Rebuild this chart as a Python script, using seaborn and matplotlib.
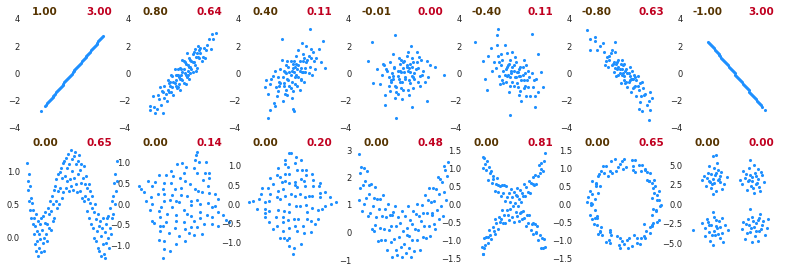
import seaborn as sns
import matplotlib.pyplot as plt

sns.set_theme(style="white")
plt.rcParams["font.family"] = ["DejaVu Sans"]

# DATA

# labels above each panel: correlation (left) and mutual information (right)
top_corr = ["1.00", "0.80", "0.40", "-0.01", "-0.40", "-0.80", "-1.00"]
top_mi = ["3.00", "0.64", "0.11", "0.00", "0.11", "0.63", "3.00"]
bottom_corr = ["0.00", "0.00", "0.00", "0.00", "0.00", "0.00", "0.00"]
bottom_mi = ["0.65", "0.14", "0.20", "0.48", "0.81", "0.65", "0.00"]

# top row: linear relationships
x_r100 = [-2.8, -2.38, -2.3, -2.21, -2.14, -2.05, -1.97, -1.9, -1.81, -1.72, -1.66, -1.57, -1.49, -1.4, -1.33,
          -1.24, -1.15, -1.08, -1.0, -0.91, -0.83, -0.76, -0.67, -0.59, -0.5, -0.42, -0.35, -0.26, -0.17, -0.1,
          -0.02, 0.07, 0.15, 0.22, 0.31, 0.39, 0.46, 0.55, 0.63, 0.7, 0.79, 0.88, 0.95, 1.03, 1.12, 1.2, 1.27,
          1.36, 1.44, 1.52, 1.6, 1.69, 1.77, 1.84, 1.93, 2.01, 2.1, 2.18, 2.26, 2.35, 2.43, 2.52, 2.6, 2.68, 2.75]
y_r100 = [-2.8, -2.38, -2.3, -2.21, -2.14, -2.05, -1.97, -1.9, -1.81, -1.72, -1.66, -1.57, -1.49, -1.4, -1.33,
          -1.24, -1.15, -1.08, -1.0, -0.91, -0.83, -0.76, -0.67, -0.59, -0.5, -0.42, -0.35, -0.26, -0.17, -0.1,
          -0.02, 0.07, 0.15, 0.22, 0.31, 0.39, 0.46, 0.55, 0.63, 0.7, 0.79, 0.88, 0.95, 1.03, 1.12, 1.2, 1.27,
          1.36, 1.44, 1.52, 1.6, 1.69, 1.77, 1.84, 1.93, 2.01, 2.1, 2.18, 2.26, 2.35, 2.43, 2.52, 2.6, 2.68, 2.75]

x_r80 = [0.3, -1.2, 1.5, -0.4, 0.9, -2.1, 0.1, 2.2, -0.8, 0.6, -1.6, 1.1, -0.1, 0.5, -0.6, 1.8, -1.0, 0.2, -2.6, 1.3,
         -0.3, 0.7, -1.4, 2.7, -0.9, 0.0, 1.0, -1.8, 0.4, -0.5, 1.6, -1.1, 0.8, -0.2, 2.0, -2.9, 0.3, -0.7, 1.2, -1.3,
         0.5, -0.1, 1.4, -2.3, 0.9, -0.4, 2.4, -1.7, 0.1, 0.6, -0.8, 1.7, -0.2, -1.5, 1.0, 0.0, -1.0, 2.1, -0.6, 0.7,
         -2.0, 1.3, -0.3, 0.2, -1.2, 0.8, 3.0, -0.9, 0.4, -1.9, 1.5, -0.5, 0.6, -2.5, 1.9, -0.1, 1.1, -1.1, 0.3, -0.7,
         2.5, -1.6, 0.9, 0.1, -0.3, 1.6, -2.2, 0.5, -0.4, 1.2, -2.9, -1.7, -2.4, 2.6, -0.6, 0.0, 1.4, -1.3, 0.7, -0.2]
y_r80 = [-0.1, -0.7, 1.7, -1.0, 0.8, -1.9, 0.9, 2.1, -0.6, -0.4, -1.8, 1.8, 0.3, 0.6, -0.9, 1.2, -0.1, 0.0, -1.7, 0.4,
         -0.2, 1.0, -2.0, 2.5, -1.0, -0.5, 0.8, -1.3, 1.5, -0.1, 1.9, -0.9, 0.3, -1.2, 1.1, -2.4, 0.7, 0.3, 1.2, -0.5,
         0.2, -0.4, 1.2, -2.6, 0.1, -0.1, 2.5, -1.4, -0.7, 1.1, -1.6, 0.9, 0.4, -1.5, 1.6, 0.1, -1.4, 1.7, -0.1, 0.0,
         -1.0, 1.5, -0.3, 0.8, -1.4, 0.9, 3.0, -0.2, -0.3, -2.3, 1.1, -1.1, 0.5, -2.5, 1.9, -0.1, 0.6, -0.6, -0.8, -0.7,
         1.8, -0.9, 1.4, 0.3, -0.8, 1.5, -1.6, -0.1, 0.3, 0.2, -2.7, -2.9, -2.9, 2.9, -0.5, 1.0, 2.0, -1.2, 0.5, -0.4]

x_r40 = [0.2, -1.1, 1.4, -0.5, 0.7, -1.9, 0.0, 1.9, -0.8, 0.5, -0.2, 1.1, -1.4, 0.9, -0.6, 2.3, 0.3, -1.6, 0.6, -0.3,
         1.6, -0.9, 0.1, -2.2, 1.2, -0.1, 0.8, -1.2, 0.4, -0.7, 2.0, -0.4, 1.0, -1.0, 0.0, 1.5, -1.7, 0.5, -0.5, 2.7,
         1.5, -2.2, -2.0, -1.6, 0.0, 0.1, 2.9, -2.5, -1.0, 0.2, -0.8, 1.3, -1.3, 0.7, -0.2, 0.9, -2.0, 1.8, -0.6, 0.3,
         -1.5, 0.6, -0.1, 2.1, -0.9, 1.1, -0.4, 0.4, -1.1, 1.7, 0.1, -0.7, 0.8, -2.4, 1.2, -0.3, 0.2, -1.3, 1.0, -0.5,
         0.5, 2.5, -1.8, 0.0, -0.8, 1.4, 0.3, -0.2, 0.9, -1.2, 0.6, -0.6, 1.6, -0.1, 0.7]
y_r40 = [0.5, -0.7, 1.3, 0.9, -0.5, -0.4, -1.3, 0.9, -0.9, 1.7, -0.1, 0.1, -1.7, 0.9, 0.0, 1.8, -0.1, 0.2, -1.2, -0.9,
         1.8, -0.3, 0.9, -1.5, 0.8, -1.8, 2.2, -0.6, 0.3, -1.5, 0.3, 0.5, -0.6, 1.0, 0.4, 0.5, -2.2, -0.3, -0.4, 2.4,
         3.3, -3.3, -2.7, -2.4, -2.6, -2.8, 0.4, -1.0, 2.5, -0.8, 0.2, 1.0, -0.3, 0.4, 0.9, 0.1, -0.8, 1.6, -1.2, 1.3,
         -1.0, 0.9, -0.6, 1.1, -2.0, 0.4, -0.5, -0.9, 0.3, -0.1, 0.1, 0.1, 0.1, -0.5, 2.0, 0.1, -0.3, -1.3, 1.1, -1.6,
         0.6, 0.8, -0.2, 0.7, -0.7, 0.0, 0.7, -1.1, 1.4, -0.9, 0.2, 0.6, 1.1, 0.2, -0.4]

x_r0 = [0.3, -0.9, 1.2, -0.4, 0.6, -1.5, 0.0, 1.7, -0.7, 0.4, -0.2, 1.0, -1.2, 0.8, -0.5, 2.1, 0.2, -1.8, 0.5, -0.3,
        1.4, -1.0, 0.1, -2.1, 1.1, -0.1, 0.7, -1.3, 0.4, -0.6, 1.9, -0.3, 0.9, -0.9, 0.0, 1.5, -1.6, 0.5, -0.5, 2.4,
        -0.8, 1.3, -1.4, 0.6, -0.2, 0.9, -1.9, 1.6, -0.6, 0.3, -1.1, 0.6, -0.1, 1.8, -0.7, 1.0, -0.4, 0.4, -1.2, 1.5,
        0.1, -0.8, 0.8, -2.3, 1.2, -0.3, 0.2, -1.3, 0.9, -0.5, 0.5, 2.2, -1.7, 0.0, -0.9, 1.3, 0.3, -0.2, 0.8, -1.1,
        3.6, -0.6, -0.7, -2.8, -3.1, -2.7, 2.8, 2.1, 0.8, -1.6]
y_r0 = [0.5, -0.2, 0.8, 1.1, -0.7, 0.3, -1.2, -0.1, -0.9, 1.6, 0.1, -0.4, -1.3, 0.5, 0.2, 0.9, -0.3, 0.7, -1.6, -0.6,
        1.2, 0.0, 0.9, -0.8, 0.3, -1.9, 2.0, -0.3, 0.2, -1.4, -0.6, 0.7, -1.1, 1.4, 0.4, -0.2, -1.6, -0.5, -0.2, 0.6,
        0.5, 0.4, 0.2, 0.1, 1.0, -0.3, -0.1, 1.0, -1.0, 1.3, -0.5, 0.7, -0.6, 0.2, -1.8, 0.0, -0.4, -1.2, 0.8, -0.9,
        0.1, 0.4, -0.2, 0.3, 1.6, 0.2, -0.4, -0.9, 0.8, -1.5, 0.4, -0.3, 0.6, 0.8, -0.4, -0.6, 0.6, -1.1, 1.1, -0.6,
        -0.1, -3.3, 2.8, 2.3, 0.9, -0.7, 0.5, -2.0, -2.5, -2.3]

x_rn40 = [0.4, -1.0, 1.3, -0.3, 0.8, -1.7, 0.1, 1.8, -0.6, 0.5, -0.1, 1.0, -1.3, 0.7, -0.8, 2.2, 0.2, -2.0, 0.6, -0.4,
          1.5, -1.1, 0.0, -0.7, 1.1, -0.2, 0.9, -1.5, 0.3, -0.5, 1.6, -0.9, 0.5, -1.2, 0.0, 2.0, -0.3, 0.7, -1.9, 1.2,
          -0.6, 0.9, -0.1, 1.4, -1.4, 0.3, -0.8, 0.6, -0.2, 1.7, -1.0, 0.1, 2.6, -0.5, 0.8, -1.6, 1.0, -0.4, 0.4, -2.3,
          1.3, -0.7, 0.2, -1.1, 1.9, 0.0, -0.9, 0.6, -0.3, 1.1, -1.3, 0.5, -0.1, 0.9, -0.6,
          -3.4, -1.4, -1.5, 1.6, -0.3, 2.2, 2.4, 1.9, -2.7, -2.5, -2.4]
y_rn40 = [0.1, 1.0, -1.0, -0.9, 0.5, 0.8, -0.3, -0.5, 1.5, -1.6, 0.5, 0.0, -0.2, -0.5, -0.1, -1.4, 0.8, 1.9, -0.2, -1.4,
          -1.7, 0.6, 0.6, -0.6, 0.6, 0.0, -1.1, 2.1, -0.7, 0.6, 0.0, 0.2, 0.3, -0.8, -0.9, -0.4, 1.0, -2.0, 0.2, -0.5,
          -0.2, 1.0, -0.6, -0.3, 1.3, 0.1, 2.1, -1.3, 0.2, -1.0, -0.5, 1.2, -1.0, -0.1, -0.1, 0.4, -0.9, 0.7, -1.0, 1.3,
          0.2, 0.3, -0.3, 1.4, -1.7, 0.2, -0.7, 0.5, -0.3, -1.7, 0.8, -0.2, 1.6, -0.5, 0.5,
          2.3, 3.3, 2.8, 2.9, -3.1, 1.4, 0.1, -2.5, 0.9, -0.4, -1.2]

x_rn80 = [0.3, -1.1, 1.4, -0.5, 0.8, -1.8, 0.0, 1.7, -0.7, 0.5, -0.2, 1.0, -1.4, 0.9, -0.4, 2.2, 0.2, -2.1, 0.6, -0.9,
          1.2, -1.2, 0.1, -0.6, 1.5, -0.1, 0.7, -1.6, 0.4, -0.8, 1.9, -0.3, 1.1, -1.0, 0.0, 2.5, -2.4, 0.5, -0.5, 1.3,
          -1.3, 0.8, -0.2, 1.6, -0.9, 0.2, -1.9, 1.0, -0.6, 0.4, 2.0, -1.5, 0.6, -0.3, 1.1, -1.1, 0.1, -0.7, 0.9, -0.1,
          1.8, -1.7, 0.3, -0.4, 1.4, -0.8, 0.7, -1.3, 0.5, 2.3, -0.5, 1.2, -2.6, 0.0, -0.2,
          -3.3, -3.0, -2.6, 2.2, 2.3, 1.6, 1.3, -3.0, -0.8]
y_rn80 = [0.0, 0.6, -0.7, 1.0, -1.1, 1.6, -0.2, -1.1, -0.2, 0.5, 0.3, -0.9, 0.5, -0.1, 0.0, -2.0, 0.3, 2.0, -1.4, 0.8,
          -0.2, 1.5, -0.7, 0.8, -1.7, 0.0, -0.4, 0.9, -0.6, 1.6, -1.5, -0.7, -0.5, 0.7, 0.7, -1.8, 1.7, -0.5, -0.1, -1.2,
          1.3, -0.4, -0.1, -0.6, 0.1, -0.6, 2.2, -0.3, 0.3, 0.0, -2.3, 1.2, -0.4, 0.7, -1.7, 1.7, 0.2, 0.7, -1.0, 0.6,
          -1.6, 0.6, -1.0, 0.3, -2.1, 0.4, 0.2, 1.0, -0.2, -1.4, 0.5, -0.9, 2.4, -0.5, 1.0,
          3.2, 2.5, 2.7, -3.4, -2.7, -2.8, -2.6, 1.7, 2.3]

x_rn100 = [-2.32, -2.25, -2.16, -2.08, -2.0, -1.91, -1.83, -1.75, -1.66, -1.58, -1.5, -1.41, -1.33, -1.25, -1.16,
           -1.08, -0.99, -0.91, -0.83, -0.74, -0.66, -0.58, -0.49, -0.41, -0.33, -0.24, -0.16, -0.08, 0.01, 0.09,
           0.17, 0.26, 0.34, 0.42, 0.51, 0.59, 0.67, 0.76, 0.84, 0.92, 1.01, 1.09, 1.17, 1.26, 1.34, 1.42, 1.51,
           1.59, 1.67, 1.76, 1.84, 1.92, 2.01, 2.09, 2.17, 2.26, 2.34, 2.45, 2.72]
y_rn100 = [2.32, 2.25, 2.16, 2.08, 2.0, 1.91, 1.83, 1.75, 1.66, 1.58, 1.5, 1.41, 1.33, 1.25, 1.16,
           1.08, 0.99, 0.91, 0.83, 0.74, 0.66, 0.58, 0.49, 0.41, 0.33, 0.24, 0.16, 0.08, -0.01, -0.09,
           -0.17, -0.26, -0.34, -0.42, -0.51, -0.59, -0.67, -0.76, -0.84, -0.92, -1.01, -1.09, -1.17, -1.26, -1.34,
           -1.42, -1.51, -1.59, -1.67, -1.76, -1.84, -1.92, -2.01, -2.09, -2.17, -2.26, -2.34, -2.45, -2.72]

# bottom row: non-linear relationships
x_wave = [-3.98, -3.95, -3.9, -3.85, -3.8, -3.75, -3.7, -3.65, -3.62, -3.57, -3.5, -3.45, -3.4, -3.35, -3.3, -3.25,
          -3.22, -3.18, -3.12, -3.08, -3.03, -2.98, -2.95, -2.9, -2.85, -2.82, -2.78, -2.72, -2.68, -2.62, -2.55,
          -2.5, -2.45, -2.42, -2.37, -2.3, -2.25, -2.18, -2.12, -2.05, -2.02, -1.96, -1.9, -1.84, -1.78, -1.72,
          -1.65, -1.62, -1.57, -1.5, -1.44, -1.38, -1.32, -1.25, -1.22, -1.17, -1.1, -1.04, -0.98, -0.92, -0.86,
          -0.82, -0.77, -0.7, -0.63, -0.57, -0.52, -0.46, -0.42, -0.37, -0.3, -0.24, -0.18, -0.1, -0.05, -0.02,
          0.04, 0.1, 0.15, 0.22, 0.28, 0.33, 0.38, 0.43, 0.5, 0.56, 0.62, 0.68, 0.73, 0.78, 0.84, 0.9, 0.96, 1.03,
          1.08, 1.14, 1.19, 1.24, 1.3, 1.36, 1.42, 1.48, 1.53, 1.58, 1.63, 1.7, 1.76, 1.82, 1.88, 1.94, 1.99, 2.04,
          2.1, 2.16, 2.22, 2.28, 2.33, 2.38, 2.43, 2.5, 2.56, 2.62, 2.68, 2.74, 2.79, 2.84, 2.9, 2.95, 3.0, 3.06,
          3.12, 3.18, 3.23, 3.28, 3.34, 3.4, 3.46, 3.52, 3.57, 3.62, 3.68, 3.74, 3.8, 3.86, 3.9, 3.96, 3.99]
y_wave = [1.12, 0.85, 0.72, 0.95, 0.55, 0.78, 0.42, 0.6, 0.3, 0.52, 0.2, 0.41, 0.05, 0.3, -0.1, 0.18,
          0.35, -0.2, 0.1, -0.05, 0.25, -0.28, 0.05, -0.15, 0.2, -0.02, 0.3, -0.22, 0.12, -0.08, 0.33,
          0.0, -0.2, 0.22, 0.38, 0.05, 0.2, -0.05, 0.45, 0.15, 0.35, 0.55, 0.12, 0.4, 0.62, 0.25,
          0.5, 0.72, 0.3, 0.78, 0.55, 0.88, 0.45, 0.7, 0.95, 0.5, 0.98, 0.75, 1.05, 0.6, 0.9,
          1.12, 0.68, 1.15, 0.92, 1.2, 0.75, 1.05, 0.85, 1.25, 0.7, 1.1, 0.88, 1.31, 0.78, 1.18,
          1.0, 0.72, 1.22, 0.9, 1.28, 0.8, 1.1, 0.68, 1.15, 0.95, 1.24, 0.7, 1.02, 0.82, 1.1, 0.6, 0.9, 1.08,
          0.55, 0.8, 0.62, 0.92, 0.4, 0.75, 0.58, 0.8, 0.3, 0.52, 0.7, 0.2, 0.45, 0.62, 0.15, 0.38, 0.0, 0.5,
          -0.05, 0.28, 0.1, 0.35, -0.15, 0.18, -0.2, 0.25, 0.02, -0.28, 0.15, -0.1, 0.3, -0.25, 0.08, -0.3, 0.2, -0.08,
          0.3, 0.0, 0.32, -0.15, 0.15, 0.45, 0.05, 0.55, 0.3, 0.62, 0.35, 0.82, 0.5, 0.95, 0.7, 1.15, 0.85]

x_tilt = [-1.1, 0.6, 2.6, -0.3, 1.7, 3.2, -1.6, 1.6, -1.2, 0.2, 2.6, 0.8, -2.0, -0.6, 1.6, 3.2, -1.5, 0.1, 2.4, 0.8,
          -2.7, -0.9, 1.4, -2.1, -0.1, 2.4, -0.6, -1.6, 0.7, -2.7, -0.7, 1.3, -2.2, -0.2, 2.1, -1.6, -3.4, 0.3, -2.4, -1.0,
          1.2, -3.1, 0.2, 1.3, 3.6, -2.1, -0.7, 2.2, 0.4, -2.0, 1.3, -1.4, 2.3, 0.4, -2.9, -0.9, 2.0, 0.2, -1.7, 1.0,
          -0.8, -3.7, 0.0, 3.2, -0.6, 0.8, 1.6, -0.6, 1.7, -1.9, -0.1, -2.8, 1.5, -1.5, -0.5, 1.9, 2.9, -1.7, -2.5, -0.3,
          1.8, -1.6, -1.0, -2.7, 1.0, -1.6, 2.3, 0.8, 1.1, 2.4, -3.2, 1.1, 2.6, 0.1, -2.0, 0.1, -1.1, 2.9, 1.0, -2.1,
          3.9, 4.1, -3.9, 1.3, -1.7]
y_tilt = [-1.11, -0.69, -0.47, -0.77, -0.72, -0.18, -1.08, -0.34, -0.70, -0.60, -0.06, -0.29, -0.65, -0.41, 0.0,
          0.11, -0.42, -0.14, 0.26, 0.07, -0.40, -0.08, 0.32, -0.17, 0.21, 0.62, 0.08, 0.08, 0.47, 0.01,
          0.36, 0.73, 0.24, 0.61, 1.0, 0.50, 0.28, 0.89, 0.53, 0.80, 1.17, 0.55, -0.89, -0.54, -0.27,
          -0.86, -0.58, -0.27, -0.23, -0.53, 0.09, -0.24, 0.42, 0.19, -0.15, 0.21, 0.75, 0.54, 0.36, 0.86,
          0.68, 0.35, 0.98, -0.52, -0.95, -0.56, -0.18, -0.27, 0.28, -0.06, 0.39, 0.17, 1.0, 0.70, 0.96,
          -0.47, -0.05, -0.52, -0.45, 0.04, 0.57, 0.24, 0.51, 0.42, -0.74, -0.88, 0.02, -0.02, 0.37, 0.75,
          0.07, 1.04, -0.32, -0.42, -0.31, 0.74, 0.09, 0.24, -0.41, 0.70, -0.38, -0.42, 0.42, 1.25, -1.28]

x_diamond = [1.0, 2.2, 3.4, -0.3, 1.6, 2.4, 0.7, 0.5, 1.2, -0.8, 2.3, -0.4, 1.7, 0.3, -1.4, 1.8, 0.6, -0.8, -1.8, 1.0,
             -0.2, -1.5, 1.2, -1.1, 0.2, -2.5, -0.9, 0.8, -2.1, -0.3, -1.3, -3.2, -1.1, 0.2, -2.2, -0.7, -3.0, -2.0, -0.3, -3.5,
             2.2, 0.9, -0.3, 2.9, -0.3, 1.3, 1.4, -0.9, -0.3, 1.8, 0.2, -1.3, 0.7, -2.1, -0.3, 0.7, -2.0, -0.4, -2.8, -1.3,
             1.6, 2.9, 0.4, 2.4, 0.6, 1.1, -2.1, -0.7, 0.4, -1.0, -1.8, -2.7, 3.3, 1.7, 0.1, -0.9, 1.7, 0.2, -2.5, -0.7,
             0.1, 1.3, -1.1, 1.1, -0.3, 1.2, -1.4, 0.3, -1.4, 0.2, -0.9, -2.5, -0.7, 2.6, 2.4, 0.4, -0.5, -2.5, 2.0, -0.7,
             -3.9, 3.8, -0.2, 0.0]
y_diamond = [-0.74, -0.14, 0.01, -0.88, -0.44, 0.19, -1.03, -0.37, -0.01, -0.88, 0.48, -0.41, 0.22, -0.05, -0.55,
             0.47, 0.28, -0.16, -0.63, 0.61, 0.26, -0.32, 0.88, 0.13, 0.50, -0.23, 0.40, 0.90, 0.08, 0.80,
             0.35, -0.12, 0.72, 1.06, 0.43, 1.05, 0.13, 0.69, 1.34, 0.08, -0.39, -0.55, -1.08, 0.32, -0.62,
             -0.19, 0.22, -0.69, -0.21, 0.62, 0.22, -0.15, 0.65, -0.16, 0.55, 1.15, 0.28, 0.97, 0.28, 0.95,
             -0.72, -0.03, -0.69, 0.30, -0.03, 0.47, -0.47, 0.22, 0.90, 0.58, 0.54, 0.42, 0.18, -0.10, -0.37,
             -0.45, 0.79, 0.58, -0.11, 0.80, -1.14, -0.39, -0.87, 0.18, 0.0, 0.77, 0.19, 1.24, 0.76, -0.55,
             -0.34, -0.34, 0.61, -0.12, 0.55, 0.46, -0.92, 0.07, -0.51, 1.16, 0.07, 0.07, 1.33, -1.28]

x_parab = [-3.95, -3.9, -3.85, -3.8, -3.72, -3.66, -3.6, -3.52, -3.45, -3.38, -3.3, -3.22, -3.15, -3.08, -3.0, -2.93,
           -2.86, -2.78, -2.7, -2.62, -2.55, -2.48, -2.4, -2.32, -2.25, -2.18, -2.1, -2.02, -1.95, -1.88, -1.8, -1.72,
           -1.65, -1.58, -1.5, -1.42, -1.35, -1.28, -1.2, -1.12, -1.05, -0.98, -0.9, -0.82, -0.75, -0.68, -0.6, -0.52,
           -0.45, -0.38, -0.3, -0.22, -0.15, -0.08, 0.0, 0.07, 0.15, 0.22, 0.3, 0.37, 0.45, 0.52, 0.6, 0.67, 0.75,
           0.82, 0.9, 0.97, 1.05, 1.12, 1.2, 1.27, 1.35, 1.42, 1.5, 1.57, 1.65, 1.72, 1.8, 1.87, 1.95, 2.02, 2.1,
           2.17, 2.25, 2.32, 2.4, 2.47, 2.55, 2.62, 2.7, 2.77, 2.85, 2.92, 3.0, 3.07, 3.15, 3.22, 3.3, 3.37, 3.45,
           3.52, 3.6, 3.67, 3.75, 3.82, 3.9, 3.97, -1.0, 0.5, -2.6, 2.6]
y_parab = [2.85, 1.20, 2.15, 1.61, 2.38, 0.77, 1.72, 2.35, 1.04, 1.88, 1.26, 2.25, 0.59, 1.39, 1.73, 0.72,
           1.77, 0.12, 0.96, 1.26, 0.26, 1.65, 0.57, 1.22, -0.32, 0.84, 0.15, 1.21, -0.27, 0.59, 1.36, 0.12,
           0.84, -0.29, 0.58, -0.65, 1.03, 0.10, 0.63, -0.34, 0.24, -0.88, 0.75, -0.22, 0.97, -0.64, 0.25, -0.82,
           0.58, -0.18, 0.36, -0.54, 0.80, -0.90, 0.05, -0.40, 0.60, -0.74, 0.16, -0.08, 0.98, -0.57, 0.45, -0.89, 0.32,
           -0.27, 0.80, -0.68, 0.14, 0.66, -0.27, 1.05, 0.08, 0.60, -0.62, 0.41, 0.99, -0.18, 0.71, 0.24, 1.38, -0.19, 0.70,
           1.19, 0.23, 1.62, -0.13, 1.11, 0.71, 1.61, 0.31, 1.16, 0.12, 1.57, 0.83, 2.03, 0.49, 1.40, 1.96, 0.97, 1.84,
           0.60, 2.42, 1.48, 2.26, 1.17, 2.05, 2.57, 0.63, -0.12, 0.05, 0.65]

x_cross = [-0.98, -0.95, -0.92, -0.88, -0.85, -0.8, -0.76, -0.72, -0.68, -0.64, -0.6, -0.56, -0.52, -0.48, -0.44,
           -0.4, -0.36, -0.32, -0.28, -0.24, -0.2, -0.16, -0.12, -0.08, -0.04, 0.0, 0.04, 0.08, 0.12, 0.16, 0.2, 0.24,
           0.28, 0.32, 0.36, 0.4, 0.44, 0.48, 0.52, 0.56, 0.6, 0.64, 0.68, 0.72, 0.76, 0.8, 0.84, 0.88, 0.92, 0.96,
           0.99, -0.9, -0.66, 0.62, 0.3, -0.5, 0.86, -0.78, 0.1, -0.3,
           -0.99, -0.96, -0.93, -0.89, -0.86, -0.82, -0.78, -0.74, -0.7, -0.66, -0.62, -0.58, -0.54, -0.5, -0.46,
           -0.42, -0.38, -0.34, -0.3, -0.26, -0.22, -0.18, -0.14, -0.1, -0.06, -0.02, 0.02, 0.06, 0.1, 0.14, 0.18,
           0.22, 0.26, 0.3, 0.34, 0.38, 0.42, 0.46, 0.5, 0.54, 0.58, 0.62, 0.66, 0.7, 0.74, 0.78, 0.82, 0.86, 0.9,
           0.94, 0.98, -0.8, 0.6, -0.4, 0.2, -0.92, 0.95, -0.6, 0.72, -0.98]
y_cross = [1.31, 1.00, 1.30, 0.97, 1.20, 0.69, 0.88, 0.94, 0.61, 0.79, 0.38, 0.56, 0.74, 0.35, 0.52,
           0.24, 0.53, 0.32, 0.11, 0.52, 0.22, 0.33, 0.08, 0.42, 0.20, 0.35, 0.05, 0.28, 0.45, 0.15, 0.40, 0.07,
           0.32, 0.58, 0.23, 0.48, 0.36, 0.66, 0.33, 0.60, 0.76, 0.54, 0.81, 0.56, 0.80, 1.10, 0.87, 1.14, 0.94, 1.20,
           1.43, 1.11, 0.70, 0.58, 0.24, 0.55, 0.99, 1.05, 0.23, 0.54,
           -1.18, -1.37, -0.91, -1.11, -0.89, -1.07, -0.71, -0.83, -0.96, -0.62, -0.74, -0.40, -0.52, -0.67, -0.35,
           -0.49, -0.16, -0.50, -0.29, -0.52, -0.14, -0.30, -0.42, -0.12, -0.33, -0.04, -0.48, -0.19, -0.31, -0.05, -0.45,
           -0.21, -0.41, -0.17, -0.37, -0.60, -0.30, -0.51, -0.30, -0.69, -0.54, -0.82, -0.54, -0.79, -0.58, -0.99, -0.84,
           -1.19, -0.93, -1.21, -1.18, -0.89, -0.51, -0.41, -0.24, -1.20, -0.95, -0.81, -0.76, -1.36]

x_ring = [0.05, 0.01, 0.29, 0.25, 0.49, 0.36, 0.59, 0.77, 0.57, 0.84, 0.86, 0.75, 1.04, 0.93, 1.18, 0.95, 1.10, 0.93,
          1.18, 1.06, 1.19, 0.93, 1.07, 1.16, 0.87, 0.98, 0.68, 0.88, 0.69, 0.72, 0.42, 0.52, 0.33, 0.42, 0.09, 0.14,
          -0.13, -0.01, -0.24, -0.16, -0.51, -0.43, -0.60, -0.47, -0.79, -0.72, -0.99, -0.78, -0.97, -0.91, -1.14,
          -0.90, -1.11, -0.98, -1.25, -1.06, -1.15, -0.88, -1.06, -0.93, -1.06, -0.79, -0.83, -0.87, -0.55, -0.69,
          -0.46, -0.59, -0.26, -0.30, -0.13, -0.19,
          -0.07, 0.30, 0.36, 0.71, 0.71, 1.01, 0.83, 1.09, 0.99, 1.22, 0.95, 1.10, 0.94, 0.92, 0.56, 0.66, 0.27, 0.16,
          -0.15, -0.08, -0.48, -0.48, -0.87, -0.81, -1.07, -0.90, -1.09, -0.96, -1.19, -0.92, -0.95, -0.66, -0.78,
          -0.40, -0.43, -0.05]
y_ring = [1.03, 1.25, 1.06, 1.24, 1.09, 0.91, 1.09, 0.90, 0.94, 0.66, 0.87, 0.67, 0.51, 0.61, 0.39, 0.45, 0.14, 0.19,
          0.13, -0.16, -0.04, -0.28, -0.17, -0.43, -0.62, -0.52, -0.54, -0.79, -0.92, -0.73, -0.91, -1.09, -0.85, -1.06,
          -0.97, -1.21, -0.93, -1.09, -0.87, -1.11, -0.98, -0.83, -1.04, -0.77, -0.76, -0.84, -0.53, -0.62, -0.36,
          -0.55, -0.28, -0.31, -0.02, -0.14, 0.08, 0.03, 0.38, 0.33, 0.29, 0.61, 0.64, 0.52, 0.86, 0.78, 0.78, 1.07,
          0.93, 1.08, 0.93, 1.27, 1.13, 1.04,
          1.21, 0.97, 1.22, 0.96, 0.99, 0.68, 0.64, 0.27, 0.32, -0.02, -0.11, -0.48, -0.58, -0.56, -0.91, -0.88, -1.13,
          -0.91, -1.20, -1.00, -1.07, -0.71, -0.81, -0.74, -0.39, -0.37, 0.05, 0.15, 0.20, 0.58, 0.52, 0.88, 0.93,
          0.87, 1.20, 0.99]

x_blobs = [-2.8, -3.8, -1.9, -3.4, -2.4, -4.5, -3.0, -1.4, -3.9, -2.6, -3.2, -2.1, -4.2, -2.3, -3.5, -0.9, -2.9, -4.9,
           -2.5, -3.3, -1.7, -3.7, -2.7, -4.1, -2.0, -3.1, -2.2, -3.6, -3.2, -2.6,
           2.7, 3.7, 1.8, 4.4, 3.1, 2.4, 3.9, 1.4, 3.4, 2.9, 4.8, 2.2, 3.2, 2.5, 4.1, 2.0, 3.6, 2.8, 4.5, 1.6, 3.3, 2.3,
           3.8, 3.0, 1.1, 4.2, 2.6, 3.5,
           -2.5, -3.9, -2.9, -1.8, -3.3, -4.4, -2.2, -3.6, -1.3, -3.0, -4.1, -2.6, -3.2, -2.0, -4.8, -2.4, -3.5, -0.8,
           -3.8, -2.7, -4.3, -1.7, -3.1, -2.1, -6.3, -3.7, -2.8, -1.5,
           2.8, 3.8, 2.2, 4.5, 3.4, 1.6, 4.1, 3.0, 4.9, 2.5, 3.6, 1.9, 3.2, 4.2, 2.7, 5.2, 2.3, 3.9, 3.1, 4.6, 1.4, 3.5,
           2.6, 4.3, 2.9, 4.0, 2.0, 5.5]
y_blobs = [3.8, 3.0, 4.2, 2.1, 3.2, 3.7, 4.7, 2.6, 4.1, 1.7, 3.3, 3.6, 2.4, 4.4, 3.9, 3.5, 2.8, 3.1,
           5.3, 2.6, 2.0, 5.0, 4.1, 3.4, 2.9, 1.3, 3.3, 2.9, 6.2, 6.3,
           3.8, 2.7, 3.4, 4.2, 2.1, 4.7, 3.3, 2.6, 4.1, 3.0, 2.9, 1.8, 5.1, 3.2, 2.3, 3.9, 3.6, 2.4, 3.8, 4.3, 1.5, 3.0,
           4.5, 3.5, 3.2, 1.7, 5.7, 2.6,
           -3.1, -2.3, -1.6, -3.7, -3.9, -3.0, -2.2, -4.7, -2.6, -3.4, -1.9, -2.8, -1.0, -4.3, -2.4, -3.8, -2.6, -3.3,
           -3.5, -2.0, -4.1, -1.8, -5.2, -2.9, -3.3, -2.7, -4.0, -4.9,
           -3.1, -2.0, -3.7, -2.6, -4.1, -2.3, -3.4, -1.6, -3.9, -2.7, -2.4, -4.4, -2.9, -1.3, -3.6, -3.0, -1.9, -4.7,
           -2.2, -2.1, -3.2, -3.4, -0.6, -3.2, -4.9, -1.7, -2.5, -1.9]

# PANELS

top_sets = [(x_r100, y_r100), (x_r80, y_r80), (x_r40, y_r40), (x_r0, y_r0),
            (x_rn40, y_rn40), (x_rn80, y_rn80), (x_rn100, y_rn100)]
bottom_sets = [(x_wave, y_wave), (x_tilt, y_tilt), (x_diamond, y_diamond), (x_parab, y_parab),
               (x_cross, y_cross), (x_ring, y_ring), (x_blobs, y_blobs)]

bottom_xlims = [(-4, 4), (-4, 4), (-4, 4), (-4, 4), (-1.42, 1.42), (-1.5, 1.5), (-6.8, 7.2)]
bottom_ylims = [(-0.334, 1.315), (-1.336, 1.29), (-1.443, 1.41), (-1.0, 3.0),
                (-1.53, 1.51), (-1.53, 1.51), (-7.16, 7.0)]
bottom_yticks = [[0, 0.5, 1.0], [-1.0, -0.5, 0, 0.5, 1.0], [-1.0, -0.5, 0, 0.5, 1.0], [-1, 0, 1, 2, 3],
                 [-1.5, -1.0, -0.5, 0, 0.5, 1.0, 1.5], [-1.5, -1.0, -0.5, 0, 0.5, 1.0, 1.5],
                 [-5.0, -2.5, 0, 2.5, 5.0]]

dot_color = "#1E90FF"
corr_color = "#553300"
mi_color = "#C00020"

W, H = 789, 271
fig = plt.figure(figsize=(W / 100, H / 100), dpi=100)


def draw_panel(ax, xs, ys, xlim, ylim, yticks, corr, mi):
    sns.scatterplot(x=xs, y=ys, ax=ax, s=5, color=dot_color, linewidth=0,
                    clip_on=False, legend=False)
    ax.set_xlim(*xlim)
    ax.set_ylim(*ylim)
    ax.set_xticks([])
    ax.set_yticks(yticks)
    ax.tick_params(axis="y", length=0, pad=5, labelsize=6, colors="#222222")
    ax.set_xlabel("")
    ax.set_ylabel("")
    sns.despine(ax=ax, left=True, bottom=True)
    # labels above the panel
    ax.text(0.2, 1.065, corr, transform=ax.transAxes, ha="center", va="center",
            fontsize=7.5, fontweight="bold", color=corr_color)
    ax.text(0.8, 1.065, mi, transform=ax.transAxes, ha="center", va="center",
            fontsize=7.5, fontweight="bold", color=mi_color)


for i in range(7):
    left = (27 + 110.4 * i) / W
    ax = fig.add_axes([left, 1 - 127.7 / H, 90 / W, 108.7 / H])
    draw_panel(ax, top_sets[i][0], top_sets[i][1], (-4, 4), (-4, 4),
               [-4, -2, 0, 2, 4], top_corr[i], top_mi[i])

    ax = fig.add_axes([left, 1 - 260 / H, 90 / W, 110 / H])
    draw_panel(ax, bottom_sets[i][0], bottom_sets[i][1], bottom_xlims[i], bottom_ylims[i],
               bottom_yticks[i], bottom_corr[i], bottom_mi[i])

fig.savefig("out.png", dpi=100)
